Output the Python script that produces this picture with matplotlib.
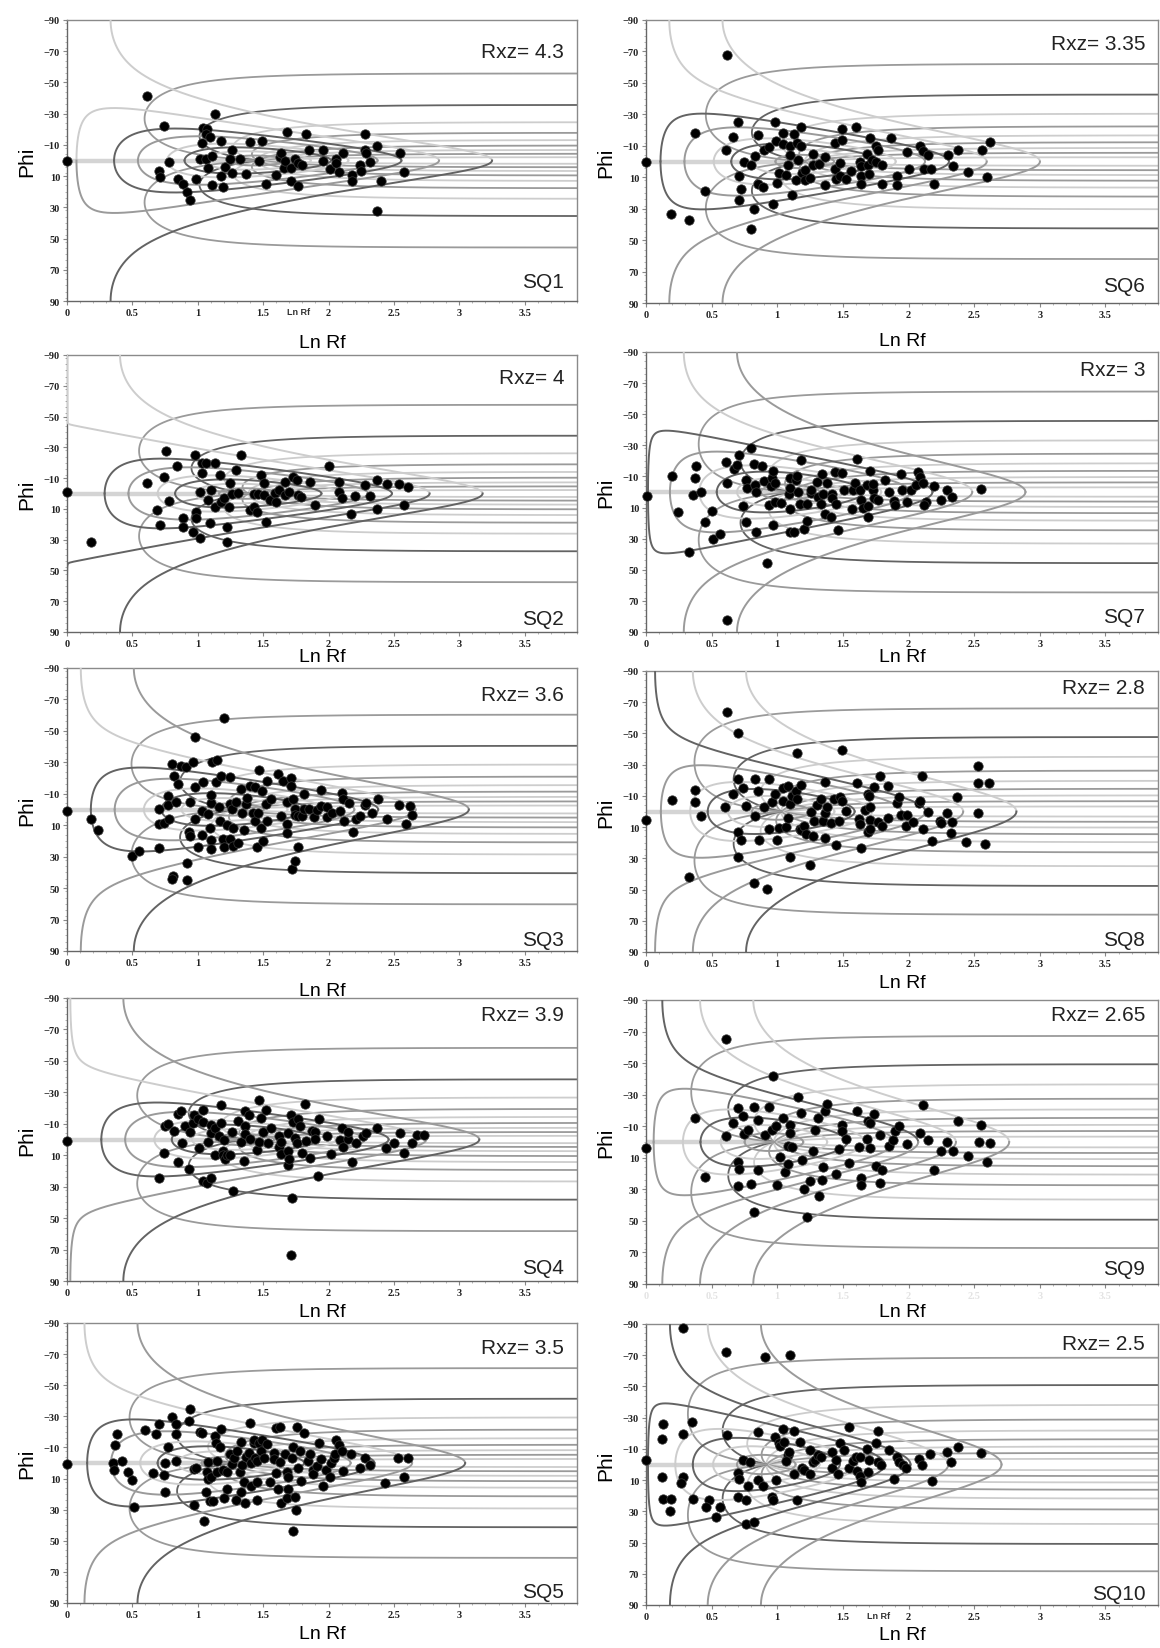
import numpy as np
import matplotlib
matplotlib.use("Agg")
from matplotlib import pyplot as plt
from matplotlib.ticker import MultipleLocator, FormatStrFormatter

# panel labels and strain ratio
panels = ["SQ1", "SQ2", "SQ3", "SQ4", "SQ5", "SQ6", "SQ7", "SQ8", "SQ9", "SQ10"]
rxz = [4.3, 4.0, 3.6, 3.9, 3.5, 3.35, 3.0, 2.8, 2.65, 2.5]

# template: initial ratio curves (Ri) and isogons (theta, deg)
template_ri = [1.25, 1.5, 1.75, 2.0, 2.5, 3.0, 4.0, 6.0]
ri_shade = {1.25: ("M", "M"), 1.5: ("L", "L"), 1.75: ("D", "D"), 2.0: ("L", "L"),
            2.5: ("M", "M"), 3.0: ("D", "D"), 4.0: ("L", "M"), 6.0: ("M", "D")}
# panels where a curve is drawn in other greys (upper half, lower half)
ri_shade_panel = {
    "SQ1": {6.0: ("L", "D")},
    "SQ2": {4.0: ("L", "D"), 6.0: ("L", "D")},
    "SQ6": {6.0: ("L", "M")},
    "SQ7": {6.0: ("M", "M")},
    "SQ8": {3.0: ("D", "M"), 6.0: ("L", "D")},
    "SQ9": {3.0: ("D", "M"), 6.0: ("L", "M")},
    "SQ10": {2.5: ("D", "D"), 6.0: ("M", "M")},
}
# the Ri = Rs curve is drawn just inside (closed) or just outside (open)
ri_equal_side = {"SQ2": 1.0002, "SQ7": 0.985, "SQ10": 0.985}
isogon_theta = [9, 18, 27, 36, 45, 54, 63, 72, 81]
isogon_shade = ["L", "M", "L", "M", "L", "M", "L", "D", "M"]

# measured grains (Ln Rf, Phi)
pts = {}
pts["SQ1"] = [
    (0, 0), (0.61, -41), (0.74, -22), (1.13, -29.5), (1.04, -20.5), (1.07, -20), (1.06, -17), (1.09, -15),
    (1.03, -11), (1.18, -12.5), (1.26, -7), (1.40, -12), (1.49, -12.5), (1.68, -18), (1.83, -17), (1.85, -7),
    (1.96, -7), (2.11, -5), (2.28, -17), (2.28, -7), (2.29, -5), (2.37, -9), (2.55, -5), (0.78, 1), (0.70, 7),
    (0.71, 10.5), (0.85, 12), (0.89, 15), (0.92, 20), (0.94, 25), (0.99, 12), (1.02, -1), (1.06, -1), (1.08, 5),
    (1.11, -3), (1.11, 16), (1.18, 10), (1.19, 17), (1.21, 4), (1.25, -1), (1.26, 8), (1.32, -1), (1.37, 8.5),
    (1.47, 0), (1.52, 15), (1.60, 9), (1.63, -2), (1.64, -4.5), (1.66, 5), (1.67, 0), (1.71, 5), (1.71, 13),
    (1.74, -1), (1.77, 1.5), (1.80, 3), (1.77, 16.5), (1.96, 0), (2.01, 5.5), (2.06, -1), (2.06, 1.5),
    (2.08, 7.5), (2.18, 9.5), (2.18, 13), (2.24, 3), (2.25, 6.5), (2.32, 1), (2.40, 13), (2.37, 32.5), (2.58, 7.5),
]
pts["SQ6"] = [
    (0, 0), (0.62, -68), (0.37, -18), (0.19, 33.5), (0.33, 37.5), (0.45, 18.5), (0.61, -7), (0.66, -15.5),
    (0.70, -25), (0.71, 9), (0.72, 17.5), (0.71, 24.5), (0.75, 0), (0.80, 2), (0.83, -3.5), (0.85, -17),
    (0.85, 14), (0.89, 16), (0.82, 30.5), (0.80, 43), (0.90, -7.5), (0.94, -9), (0.98, -25), (0.99, -13),
    (1.01, 7), (1.00, 13.5), (0.97, 27), (1.04, -18), (1.04, -11), (1.07, 8.5), (1.08, 2), (1.10, -10),
    (1.10, -4), (1.11, 21), (1.13, -17.5), (1.14, 11.5), (1.15, -12), (1.16, -1), (1.18, -22), (1.18, -10),
    (1.19, 7), (1.21, 12), (1.21, 5.5), (1.27, -4.5), (1.27, 2.5), (1.25, 10.5), (1.32, 1.5), (1.36, -3),
    (1.36, 15), (1.44, -12), (1.44, 5), (1.45, 11), (1.48, 1), (1.49, -20.5), (1.49, -13.5), (1.48, 9),
    (1.52, 11), (1.56, 6), (1.60, -22), (1.63, 0), (1.64, 3), (1.64, 9), (1.64, 14), (1.68, -5), (1.69, 2),
    (1.70, 8), (1.71, -15), (1.72, -1), (1.75, -10), (1.77, -7.5), (1.75, 0.5), (1.80, 2.5), (1.80, 14),
    (1.87, -15), (1.91, 9), (1.91, 15), (1.99, -6), (2.00, 4.5), (2.09, -10), (2.11, -6.5), (2.15, -4),
    (2.12, 5), (2.17, 4.5), (2.19, 14.5), (2.30, -4), (2.34, 3), (2.38, -7), (2.45, 6.5), (2.56, -7.5),
    (2.62, -12.5), (2.60, 10),
]
pts["SQ2"] = [
    (0, -1), (0.18, 31.5), (0.61, -6.5), (0.69, 10.5), (0.71, 20.5), (0.74, -11), (0.76, -27.5), (0.78, 5),
    (0.84, -18), (0.89, 16), (0.89, 22), (0.96, 25), (0.98, -25), (0.99, 12), (0.99, 16), (1.02, 29),
    (1.02, -1), (1.03, -13), (1.03, -20), (1.06, -20), (1.08, 4), (1.10, -2.5), (1.09, 19), (1.13, -19.5),
    (1.13, 9), (1.17, -12), (1.18, 5.5), (1.20, 3), (1.22, 22), (1.22, 31.5), (1.24, 8.5), (1.25, -6.5),
    (1.26, 0.5), (1.29, -15), (1.31, -0.5), (1.33, -25), (1.40, 11), (1.43, 0), (1.43, 9), (1.45, 12),
    (1.46, 0), (1.48, -12), (1.51, -7), (1.51, 1), (1.52, 18.5), (1.55, 4.5), (1.59, -0.5), (1.60, 5.5),
    (1.62, -2), (1.67, 1), (1.67, -7.5), (1.70, -1), (1.73, -11), (1.76, -9), (1.77, 1), (1.79, 2),
    (1.86, -7.5), (1.90, 7.5), (2.00, -18), (2.08, -7.5), (2.08, -1), (2.10, 3), (2.17, 13), (2.20, 1.5),
    (2.28, -5.5), (2.32, 1.5), (2.37, -8.5), (2.37, 10), (2.45, -6), (2.54, -6), (2.58, 7.5), (2.61, -4.5),
]
pts["SQ7"] = [
    (0.01, 2.5), (0.20, -10.5), (0.24, 13), (0.33, 38.5), (0.36, 2), (0.37, -9), (0.38, -17), (0.42, 0),
    (0.45, 19.5), (0.50, 12.5), (0.51, 30), (0.56, 27), (0.61, -19), (0.62, -6), (0.67, -15), (0.69, -17.5),
    (0.71, -24), (0.62, 82.5), (0.74, 9), (0.76, 19.5), (0.76, -7.5), (0.77, -2.5), (0.80, -28), (0.82, -18),
    (0.83, -4.5), (0.84, 0), (0.84, 25.5), (0.88, -16.5), (0.90, -7), (0.92, 45.5), (0.94, 8.5), (0.95, -4),
    (0.96, -9), (0.97, -13.5), (0.98, -5.5), (0.97, 21.5), (0.98, 6.5), (1.03, 7), (1.09, 1), (1.10, -9),
    (1.10, 11), (1.10, -2.5), (1.10, 26), (1.13, 26), (1.14, -7.5), (1.15, -10.5), (1.16, 0), (1.17, 8),
    (1.18, -20.5), (1.20, 24), (1.23, 18.5), (1.23, 8), (1.26, 0.5), (1.26, -1.5), (1.30, -6.5), (1.31, 3),
    (1.33, 7.5), (1.34, -11.5), (1.35, 1.5), (1.36, 14), (1.38, -6), (1.41, 16), (1.42, 1.5), (1.42, 4),
    (1.44, -13), (1.45, 8), (1.46, 24.5), (1.49, -12.5), (1.51, -1.5), (1.57, 11), (1.58, -1.5), (1.59, -6),
    (1.61, -21), (1.63, -1.5), (1.64, 5), (1.65, 10.5), (1.68, -4.5), (1.69, 16), (1.69, 9), (1.71, -13.5),
    (1.73, -1.5), (1.73, -5), (1.74, 4), (1.77, 5), (1.82, -7.5), (1.85, 0), (1.89, 6), (1.90, 8.5),
    (1.94, -11.5), (1.95, -1), (1.99, 6.5), (2.02, -1), (2.06, -4.5), (2.07, -13), (2.09, -9.5), (2.11, -6),
    (2.13, 6.5), (2.12, 8.5), (2.19, -4), (2.25, 5), (2.29, -1.5), (2.33, 3.5), (2.55, -2),
]
pts["SQ3"] = [
    (0, 1), (0.18, 6), (0.24, 13), (0.50, 29.5), (0.55, 26.5), (0.70, 24.5), (0.70, -0.5), (0.70, 9.5),
    (0.74, 8.5), (0.77, -8.5), (0.77, -3), (0.78, 6), (0.80, -29), (0.81, 42), (0.80, 44), (0.82, -21.5),
    (0.83, -5), (0.85, -16.5), (0.87, -27.5), (0.91, -27), (0.92, 34), (0.92, 45), (0.93, 14), (0.94, -4.5),
    (0.94, 17), (0.96, -30), (0.98, -46), (0.98, -14.5), (0.98, 6), (1.00, 24), (1.03, 1), (1.03, 16.5),
    (1.04, -17.5), (1.08, 3), (1.10, -4), (1.09, 11.5), (1.10, 19.5), (1.10, -9), (1.10, 25), (1.11, -30),
    (1.15, -31.5), (1.14, -17.5), (1.16, -1.5), (1.17, 7.5), (1.18, -21.5), (1.19, 18.5), (1.20, 24),
    (1.20, -58), (1.22, 10), (1.25, -20.5), (1.25, -3.5), (1.25, 18.5), (1.26, -0.5), (1.27, 12), (1.27, 23),
    (1.29, -5), (1.31, 21.5), (1.33, -13), (1.34, 2), (1.35, 13), (1.37, -3.5), (1.38, -7.5), (1.40, -15),
    (1.42, 2.5), (1.44, -14.5), (1.44, 7), (1.45, 24), (1.46, 2), (1.47, -25), (1.48, 12), (1.49, -12),
    (1.50, 20), (1.52, -3.5), (1.53, -18), (1.53, 7), (1.56, -6.5), (1.61, -22.5), (1.64, 4), (1.65, -18),
    (1.68, 9.5), (1.68, 15), (1.68, -5), (1.71, -20), (1.71, -15), (1.72, 38), (1.73, -6.5), (1.74, 33),
    (1.74, -0.5), (1.74, 3.5), (1.77, 24), (1.77, 4), (1.80, 4), (1.81, -10), (1.81, -0.5), (1.85, -0.5),
    (1.89, 5), (1.91, 0), (1.94, -12.5), (1.94, -2), (1.99, 5), (1.99, -1.5), (2.03, 2.5), (2.09, 1),
    (2.10, -10.5), (2.11, -6.5), (2.12, 7), (2.16, -4), (2.19, 14.5), (2.21, 6), (2.24, 4), (2.28, -3),
    (2.29, -4), (2.33, 2.5), (2.38, -6.5), (2.45, 6), (2.54, -3), (2.59, 9.5), (2.62, -2.5), (2.64, 3.5),
]
pts["SQ8"] = [
    (0, 5.5), (0.20, -7.5), (0.37, -13.5), (0.37, -6), (0.42, 3), (0.33, 42), (0.62, -63.5), (0.70, -50.5),
    (0.60, -3), (0.66, -11), (0.70, -20.5), (0.70, 13), (0.72, 18), (0.70, 29), (0.74, -15), (0.76, -3.5),
    (0.82, 45.5), (0.83, -21), (0.83, 3), (0.85, -13), (0.86, 18.5), (0.90, -3), (0.92, 49.5), (0.94, -21),
    (0.94, 11), (0.96, -6), (0.98, -11), (1.00, 18.5), (1.01, 10.5), (1.04, -15), (1.04, -7), (1.07, 10),
    (1.08, -16.5), (1.08, 4), (1.10, -4.5), (1.11, -10), (1.10, 29), (1.14, -13), (1.15, -37.5), (1.15, -8),
    (1.17, 11), (1.18, -17), (1.18, 12), (1.20, 9.5), (1.22, 14.5), (1.25, 34.5), (1.26, 0), (1.27, 15.5),
    (1.28, 6), (1.30, -4), (1.33, -8), (1.35, 6), (1.36, 1), (1.36, -19), (1.36, 17), (1.38, -3), (1.41, 7.5),
    (1.43, -8), (1.45, 21.5), (1.47, 6), (1.48, -9), (1.49, -39.5), (1.49, -6.5), (1.52, -0.5), (1.61, -18),
    (1.62, 4.5), (1.63, 8), (1.64, 23.5), (1.67, -1), (1.69, -11), (1.69, 13), (1.70, -10), (1.71, 5.5),
    (1.71, -3), (1.71, 11), (1.74, -16), (1.77, 7), (1.78, -22.5), (1.80, 9), (1.84, -16.5), (1.84, 4),
    (1.91, -5.5), (1.93, -9), (1.94, 2), (1.98, 9.5), (1.99, 2), (2.03, 6.5), (2.08, -5.5), (2.09, -7),
    (2.10, -22.5), (2.11, 11.5), (2.15, 0), (2.18, 19), (2.24, 6), (2.25, 7.5), (2.29, 1), (2.32, 14),
    (2.33, 7), (2.37, -9), (2.44, 19.5), (2.53, -29), (2.53, -18.5), (2.53, 1), (2.58, 20.5), (2.61, -18),
]
pts["SQ4"] = [
    (0, 1), (0.70, 24.5), (0.74, 8.5), (0.75, -8.5), (0.77, -10), (0.82, -5.5), (0.85, 14), (0.85, -16.5),
    (0.87, -18), (0.88, 2.5), (0.90, -8.5), (0.93, 18.5), (0.94, -5), (0.96, -10.5), (0.97, -15.5),
    (1.00, -13), (1.01, 5.5), (1.04, -18.5), (1.04, -11), (1.04, 26.5), (1.07, 27.5), (1.08, 1.5),
    (1.10, 24.5), (1.10, -9.5), (1.10, -4), (1.13, -7), (1.13, 10), (1.16, -2), (1.18, -22), (1.18, -10.5),
    (1.19, 7), (1.19, 10), (1.21, 12.5), (1.20, 0), (1.22, 10), (1.25, 10), (1.26, -4.5), (1.27, 33),
    (1.31, -12), (1.33, 1.5), (1.35, 13.5), (1.36, -18), (1.36, -8.5), (1.36, -3.5), (1.39, -15.5),
    (1.40, -0.5), (1.45, 6.5), (1.47, -25), (1.47, 1.5), (1.48, -13.5), (1.50, -4.5), (1.52, -18.5),
    (1.54, 2.5), (1.56, -7), (1.62, -2), (1.62, 5), (1.64, 9.5), (1.64, 1.5), (1.69, 16), (1.69, -4),
    (1.69, 7), (1.70, 12.5), (1.71, -15.5), (1.72, 37.5), (1.71, 73.5), (1.73, -11), (1.74, -1), (1.76, 2.5),
    (1.77, -13), (1.78, -8.5), (1.80, 8.5), (1.82, -22.5), (1.83, 1), (1.86, 11.5), (1.87, -5.5), (1.90, -5),
    (1.90, -0.5), (1.92, 23), (1.93, -13), (1.99, -2), (2.02, 9.5), (2.09, 0.5), (2.10, -7), (2.11, 5),
    (2.15, -0.5), (2.15, -4.5), (2.18, 14.5), (2.21, 2.5), (2.26, -2.5), (2.29, -4), (2.37, -7), (2.44, 5.5),
    (2.50, 2), (2.55, -4), (2.58, 8.5), (2.64, 2.5), (2.68, -3), (2.73, -3),
]
pts["SQ9"] = [
    (0, 4), (0.37, -15), (0.45, 22), (0.61, -65.5), (0.61, -4), (0.66, -12), (0.70, -21.5), (0.70, 12.5),
    (0.71, 17), (0.70, 28), (0.74, -16.5), (0.75, -5), (0.78, -7.5), (0.80, 26.5), (0.82, 44.5), (0.82, -22),
    (0.85, -14), (0.85, 18), (0.91, -4.5), (0.94, -22), (0.96, -7.5), (0.97, -42), (0.99, -10), (1.00, 27),
    (1.02, 9.5), (1.04, -15.5), (1.06, 19), (1.08, 14), (1.08, 2.5), (1.10, -11), (1.10, -6), (1.11, 3),
    (1.16, -28.5), (1.18, -18.5), (1.19, 11.5), (1.20, 29.5), (1.23, 47.5), (1.25, 24.5), (1.27, 6),
    (1.29, -7.5), (1.31, -15), (1.32, 34), (1.34, 24), (1.35, 16), (1.36, -19.5), (1.38, -24), (1.45, 20.5),
    (1.47, 4.5), (1.49, -10.5), (1.49, -7), (1.52, -2), (1.55, 13.5), (1.61, -19.5), (1.62, 3), (1.64, 22.5),
    (1.64, 27.5), (1.68, -2), (1.69, -13.5), (1.71, -12), (1.71, 4), (1.74, -17.5), (1.75, 15.5), (1.78, 26),
    (1.78, -4.5), (1.80, 18), (1.85, 2.5), (1.88, -1.5), (1.90, -7), (1.93, -10), (1.99, 1.5), (2.09, -6),
    (2.11, -23.5), (2.15, -1.5), (2.19, 18), (2.25, 5.5), (2.29, 0), (2.34, 6), (2.38, -13.5), (2.45, 9),
    (2.54, 0), (2.55, -10.5), (2.60, 12.5), (2.62, 0.5),
]
pts["SQ5"] = [
    (0, 0.5), (0.35, 0), (0.36, 4.5), (0.37, -11.5), (0.38, -18.5), (0.42, -1.5), (0.47, 6), (0.50, 11),
    (0.51, 28.5), (0.60, -21), (0.66, 6.5), (0.68, -18.5), (0.70, -25), (0.74, 8), (0.75, 0), (0.75, 18.5),
    (0.77, -10), (0.80, -29.5), (0.83, -25), (0.83, -18.5), (0.83, -1.5), (0.93, -27), (0.94, -35),
    (0.97, 27), (0.97, 4), (0.99, 3), (1.02, -20), (1.03, -19.5), (1.05, 37.5), (1.06, 18.5), (1.07, 6),
    (1.08, -0.5), (1.08, 10.5), (1.09, 24.5), (1.10, 9), (1.12, 24.5), (1.13, -17.5), (1.14, -13),
    (1.15, -1.5), (1.15, 6), (1.17, -10), (1.18, -22), (1.19, 4.5), (1.20, 22.5), (1.22, 6), (1.22, 17),
    (1.25, -5.5), (1.26, 0.5), (1.28, -3), (1.29, 24), (1.30, -8), (1.32, 6), (1.33, -13.5), (1.33, 18.5),
    (1.34, 1), (1.35, 12), (1.36, 25.5), (1.37, -4), (1.39, -6.5), (1.40, -25.5), (1.41, 0), (1.41, 14.5),
    (1.43, -13), (1.43, -15), (1.44, -3), (1.45, 23.5), (1.45, -1), (1.45, 12), (1.47, -13), (1.48, -7.5),
    (1.49, -15), (1.51, -3.5), (1.53, -12.5), (1.55, 12), (1.58, -6.5), (1.58, -2.5), (1.60, 6.5),
    (1.61, 17), (1.60, -22.5), (1.63, -23), (1.63, -0.5), (1.64, 26), (1.67, -6), (1.68, 6), (1.69, 17),
    (1.68, 22.5), (1.69, 9), (1.72, -3.5), (1.73, -10), (1.74, 22), (1.75, 30), (1.73, 44), (1.76, -23),
    (1.77, 3.5), (1.78, -7.5), (1.79, 11.5), (1.81, -19.5), (1.84, -1.5), (1.86, -6), (1.88, 4.5), (1.88, 7),
    (1.91, 2), (1.93, -13), (1.94, -2.5), (1.96, 14.5), (1.98, 4.5), (2.01, 9), (2.02, 0), (2.04, -3),
    (2.05, -6), (2.06, -14.5), (2.08, -11.5), (2.10, -7.5), (2.11, 5), (2.17, -6), (2.24, 3.5), (2.28, -3),
    (2.32, 1.5), (2.43, 13), (2.53, -3.5), (2.61, -3), (2.58, 9),
]
pts["SQ10"] = [
    (0, -3), (0.28, -87.5), (0.61, -72), (0.91, -69), (1.10, -70), (0.13, -26), (0.12, -16.5), (0.12, 8),
    (0.28, -19.5), (0.35, -27), (0.28, 8), (0.27, 12), (0.13, 22), (0.19, 22), (0.18, 29.5), (0.36, 22),
    (0.48, 23), (0.46, 27), (0.56, 27.5), (0.53, 33.5), (0.62, -19), (0.70, 5.5), (0.71, 9), (0.70, 21),
    (0.74, -3), (0.76, 23), (0.78, 13.5), (0.79, -1.5), (0.76, 38), (0.82, 37), (0.85, -21), (0.85, 10),
    (0.89, 14), (0.96, 20.5), (0.97, 23), (0.98, -17.5), (0.99, 10), (1.01, -13.5), (1.02, -12),
    (1.04, -22.5), (1.05, -14.5), (1.08, -6), (1.09, -8), (1.07, -2), (1.13, 6), (1.13, -21.5), (1.15, 22.5),
    (1.17, -14.5), (1.19, 2), (1.20, 3.5), (1.25, 6), (1.25, -9.5), (1.27, -1.5), (1.29, -3), (1.31, -6),
    (1.33, -5), (1.42, -8), (1.42, 2.5), (1.45, -3), (1.46, 6), (1.48, -14), (1.51, -9), (1.55, 2.5),
    (1.55, -24), (1.58, -2), (1.60, -4.5), (1.61, 4), (1.63, -4.5), (1.63, 7.5), (1.64, 11), (1.68, -10),
    (1.69, 5), (1.70, -3), (1.75, -13.5), (1.77, -1.5), (1.77, -21.5), (1.79, 0), (1.85, -9), (1.89, 9),
    (1.91, -4.5), (1.93, -1.5), (1.96, 0.5), (1.98, 2), (2.08, -3.5), (2.10, 0.5), (2.16, -6.5),
    (2.18, 10.5), (2.29, -8), (2.32, -1.5), (2.38, -11.5), (2.55, -7.5),
]

shades = {"L": "#cdcdcd", "M": "#9a9a9a", "D": "#636363"}


def rf_phi(rs, ri, th):
    # strain an ellipse of ratio ri lying at angle th by pure shear rs; gives ln Rf and phi (deg)
    c, s = np.cos(th), np.sin(th)
    sr, sq = np.sqrt(ri), np.sqrt(rs)
    a = sq * c * sr
    b = -sq * s / sr
    cc = s * sr / sq
    d = c / (sr * sq)
    b11 = a * a + b * b
    b12 = a * cc + b * d
    b22 = cc * cc + d * d
    tr = b11 + b22
    lam = (tr + np.sqrt(np.maximum(tr * tr - 4, 0))) / 2
    phi = 0.5 * np.degrees(np.arctan2(2 * b12, b11 - b22))
    return np.log(lam), phi


# axes boxes (top, bottom) in pixels of the 1160x1649 sheet, per panel
box_px = {
    "SQ1": (21, 302), "SQ2": (356, 633), "SQ3": (669, 952), "SQ4": (999, 1282), "SQ5": (1324, 1604),
    "SQ6": (21, 304), "SQ7": (353, 633), "SQ8": (672, 953), "SQ9": (1001, 1285), "SQ10": (1325, 1606),
}
# distance (px) from the box bottom to the centre of the "Ln Rf" label
xlab_px = {"SQ1": 41, "SQ2": 25, "SQ3": 40, "SQ4": 31, "SQ5": 31,
           "SQ6": 38, "SQ7": 25, "SQ8": 31, "SQ9": 28, "SQ10": 30}
# distance (px) from the box top to the "Rxz" note and from the box bottom to the sample name
note_px = {"SQ1": 31, "SQ2": 23, "SQ3": 27, "SQ4": 17, "SQ5": 25,
           "SQ6": 23, "SQ7": 18, "SQ8": 17, "SQ9": 15, "SQ10": 20}
name_px = {"SQ1": 20, "SQ2": 13, "SQ3": 11, "SQ4": 13, "SQ5": 11,
           "SQ6": 17, "SQ7": 15, "SQ8": 12, "SQ9": 15, "SQ10": 11}
col_px = [(67, 577), (646, 1158)]

fig = plt.figure(figsize=(11.6, 16.49), dpi=100)
W, H = 1160.0, 1649.0
th_run = np.radians(np.linspace(-90, 90, 40001))
ri_run = np.logspace(0, 6, 8000)

for i, name in enumerate(panels):
    col = 0 if i < 5 else 1
    x0, x1 = col_px[col]
    y0, y1 = box_px[name]
    ax = fig.add_axes([x0 / W, 1 - y1 / H, (x1 - x0) / W, (y1 - y0) / H])
    ax.set_facecolor("none")
    rs = rxz[i]

    # theta = 90 isogon, lying on phi = 0 up to ln Rs
    ax.plot([0, np.log(rs)], [0, 0], color="#d4d4d4", lw=3.2, zorder=2, solid_capstyle="butt")
    # isogons
    for th, sh in zip(isogon_theta, isogon_shade):
        for sgn in (1, -1):
            x, y = rf_phi(rs, ri_run, np.radians(sgn * th))
            ax.plot(x, y, color=shades[sh], lw=1.3, zorder=2)
    # Ri curves, upper and lower halves
    for ri in template_ri:
        top, bot = ri_shade_panel.get(name, {}).get(ri, ri_shade[ri])
        ri_use = ri * ri_equal_side.get(name, 1.0) if abs(ri - rs) < 1e-9 else ri
        x, y = rf_phi(rs, ri_use, th_run)
        up = y <= 0
        ax.plot(np.where(up, x, np.nan), np.where(up, y, np.nan), color=shades[top], lw=1.4, zorder=3)
        ax.plot(np.where(~up, x, np.nan), np.where(~up, y, np.nan), color=shades[bot], lw=1.4, zorder=3)

    px = [p[0] for p in pts[name]]
    py = [p[1] for p in pts[name]]
    ax.scatter(px, py, s=46, color="black", edgecolors="#3a3a3a", linewidths=0.5, zorder=5, clip_on=False)

    ax.set_xlim(0, 3.9)
    ax.set_ylim(90, -90)
    ax.xaxis.set_major_locator(MultipleLocator(0.5))
    ax.xaxis.set_minor_locator(MultipleLocator(0.1))
    ax.set_yticks(np.arange(-90, 91, 20))
    ax.yaxis.set_minor_locator(MultipleLocator(4))
    ax.xaxis.set_major_formatter(FormatStrFormatter("%g"))
    ax.tick_params(axis="both", which="major", labelsize=7.5, length=3, color="#888888", labelcolor="#222222",
                   pad=2)
    if name == "SQ9":
        ax.tick_params(axis="x", labelcolor="#e3e3e3")
    ax.tick_params(axis="both", which="minor", length=1.5, color="#aaaaaa")
    for t in ax.get_xticklabels() + ax.get_yticklabels():
        t.set_fontfamily("Liberation Serif")
        t.set_fontweight("bold")
    for sp in ax.spines.values():
        sp.set_color("#8a8a8a")
        sp.set_linewidth(1.0)
    ax.spines["left"].set_color("#666666")
    ax.spines["bottom"].set_color("#666666")

    hpx = float(y1 - y0)
    ax.set_ylabel("Phi", fontsize=15, family="Liberation Sans")
    ax.yaxis.set_label_coords(-0.06, 0.5)
    ax.set_xlabel("Ln Rf", fontsize=14, family="Liberation Sans", va="center")
    ax.xaxis.set_label_coords(0.5, -xlab_px[name] / hpx)
    ax.text(0.975, 1 - note_px[name] / hpx, "Rxz= %g" % rxz[i], transform=ax.transAxes, ha="right",
            va="center", fontsize=15, family="Liberation Sans", color="#222222")
    ax.text(0.975, name_px[name] / hpx, name, transform=ax.transAxes, ha="right", va="center",
            fontsize=15, family="Liberation Sans", color="#222222")
    if name in ("SQ1", "SQ10"):
        ax.text(1.77, -0.022, "Ln Rf", transform=ax.get_xaxis_transform(), ha="center", va="top",
                fontsize=6.5, fontweight="bold", family="Liberation Sans", color="#333333")

fig.savefig("out.png", dpi=100, facecolor="white")
